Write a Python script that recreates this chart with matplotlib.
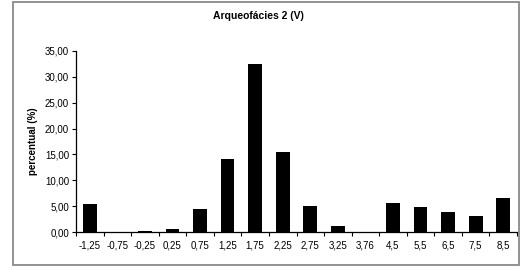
import numpy as np
import matplotlib
matplotlib.use("Agg")
import matplotlib.pyplot as plt
from matplotlib.patches import Rectangle
from matplotlib.ticker import FixedLocator

plt.rcParams['font.family'] = ['Liberation Sans', 'DejaVu Sans']

categories = ["-1,25", "-0,75", "-0,25", "0,25", "0,75", "1,25", "1,75", "2,25",
              "2,75", "3,25", "3,76", "4,5", "5,5", "6,5", "7,5", "8,5"]
values = [5.4, 0.0, 0.2, 0.5, 4.4, 14.1, 32.5, 15.5,
          5.0, 1.1, 0.0, 5.7, 4.8, 3.9, 3.0, 6.5]
yticks = [0, 5, 10, 15, 20, 25, 30, 35]

fig = plt.figure(figsize=(5.23, 2.70), dpi=100)
fig.patches.append(Rectangle((13 / 523, 5 / 270), 506 / 523, 263 / 270,
                             transform=fig.transFigure, fill=False,
                             edgecolor="#7f7f7f", linewidth=1.2))

ax = fig.add_axes([76 / 523, 1 - 232 / 270, 441 / 523, 181 / 270])
x = np.arange(len(categories))
ax.bar(x, values, width=0.5, color="black")

ax.set_xlim(-0.5, len(categories) - 0.5)
ax.set_ylim(0, 35)
ax.set_xticks(x)
ax.set_xticklabels(categories, fontsize=7)
ax.xaxis.set_minor_locator(FixedLocator(np.arange(-0.5, len(categories), 1.0)))
ax.tick_params(axis="x", which="major", length=0, pad=6)
ax.tick_params(axis="x", which="minor", length=3, width=0.8)
ax.set_yticks(yticks)
ax.set_yticklabels([f"{v:.2f}".replace(".", ",") for v in yticks], fontsize=7)
ax.tick_params(axis="y", length=3, width=0.8, pad=2)
ax.spines["top"].set_visible(False)
ax.spines["right"].set_visible(False)
ax.spines["left"].set_linewidth(0.9)
ax.spines["bottom"].set_linewidth(0.9)
ax.set_ylabel("percentual (%)", fontsize=7, fontweight="bold", labelpad=5)
fig.text(258 / 523, 1 - 16 / 270, "Arqueofácies 2 (V)", fontsize=7.5,
         fontweight="bold", ha="center", va="center")

fig.savefig("out.png", dpi=100)
